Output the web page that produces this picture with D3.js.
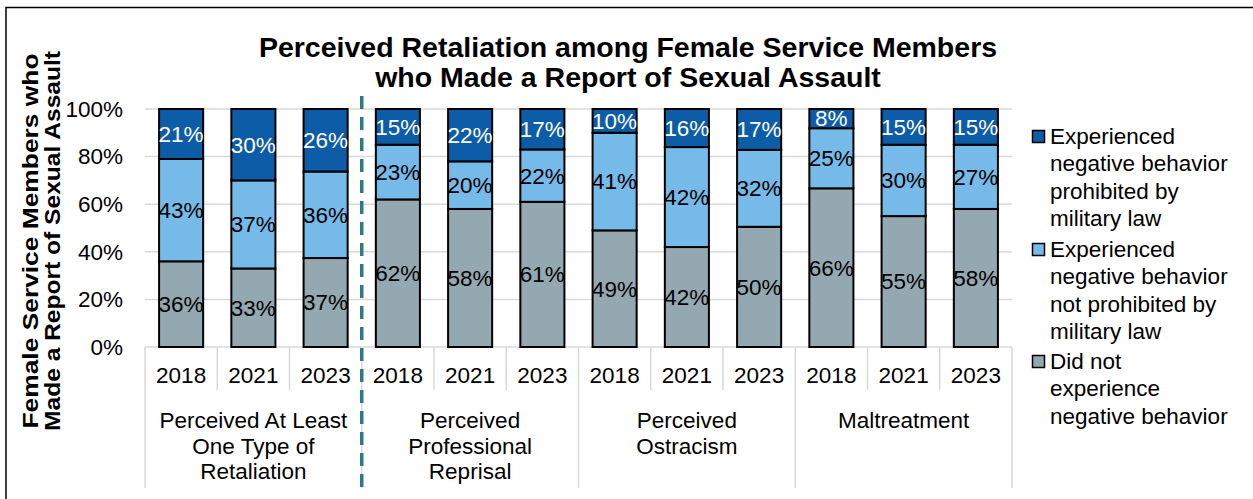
<!DOCTYPE html>
<html>
<head>
<meta charset="utf-8">
<script src="https://cdn.jsdelivr.net/npm/d3@7"></script>
<style>
  html, body { margin: 0; padding: 0; background: #fff; }
  svg { display: block; font-family: "Liberation Sans", Arial, sans-serif; }
</style>
</head>
<body>
<svg id="chart" width="1253" height="499"></svg>
<script>
// ---- Data ----
const titleLines = ["Perceived Retaliation among Female Service Members", "who Made a Report of Sexual Assault"];
const yTitleLines = ["Female Service Members who", "Made a Report of Sexual Assault"];
const groupLabels = [
  ["Perceived At Least", "One Type of", "Retaliation"],
  ["Perceived", "Professional", "Reprisal"],
  ["Perceived", "Ostracism"],
  ["Maltreatment"]
];
const years = ["2018", "2021", "2023"];
const seriesNames = [
  "Experienced negative behavior prohibited by military law",
  "Experienced negative behavior not prohibited by military law",
  "Did not experience negative behavior"
];
const legendLines = [
  ["Experienced", "negative behavior", "prohibited by", "military law"],
  ["Experienced", "negative behavior", "not prohibited by", "military law"],
  ["Did not", "experience", "negative behavior"]
];
const prohibited    = [21, 30, 26, 15, 22, 17, 10, 16, 17, 8, 15, 15];
const notProhibited = [43, 37, 36, 23, 20, 22, 41, 42, 32, 25, 30, 27];
const didNot        = [36, 33, 37, 62, 58, 61, 49, 42, 50, 66, 55, 58];
const yTicks = [0, 0.2, 0.4, 0.6, 0.8, 1.0];

// ---- Build table ----
const rows = [];
groupLabels.forEach((g, gi) => {
  years.forEach((y, yi) => {
    const i = gi * years.length + yi;
    rows.push({ id: i, group: gi, year: y, prohibited: prohibited[i], notProhibited: notProhibited[i], didNot: didNot[i] });
  });
});
const keys = ["didNot", "notProhibited", "prohibited"];
const colors = { prohibited: "#0d5ca7", notProhibited: "#75bae8", didNot: "#93a8b0" };
const labelColors = { prohibited: "#ffffff", notProhibited: "#000000", didNot: "#000000" };

const svg = d3.select("#chart");
const FONT = 22.5;

// outer border
svg.append("rect").attr("x", 6).attr("y", 7.5).attr("width", 1300).attr("height", 600)
  .attr("fill", "none").attr("stroke", "#000").attr("stroke-width", 1.5);

const plotLeft = 145, plotRight = 1012, plotTop = 109, plotBottom = 347;

const x = d3.scaleBand().domain(rows.map(d => d.id)).range([plotLeft, plotRight])
  .paddingInner(0.39).paddingOuter(0.195);
const y = d3.scaleLinear().domain([0, 1]).range([plotBottom, plotTop]);

// gridlines
svg.append("g").selectAll("line").data(yTicks.slice(1)).join("line")
  .attr("x1", plotLeft).attr("x2", plotRight)
  .attr("y1", d => y(d)).attr("y2", d => y(d))
  .attr("stroke", "#d9d9d9").attr("stroke-width", 1.5);

// y axis
const yAxis = d3.axisLeft(y).tickValues(yTicks).tickFormat(d3.format(".0%")).tickSize(0).tickPadding(22);
const yg = svg.append("g").attr("transform", `translate(${plotLeft},0)`).call(yAxis);
yg.select(".domain").remove();
yg.selectAll("text").attr("font-size", FONT).attr("fill", "#000")
  .attr("font-family", "Liberation Sans, Arial, sans-serif");

// category axis lines
const step = x.step();
const boundaries = d3.range(rows.length + 1).map(i => plotLeft + i * step);
svg.append("line").attr("x1", plotLeft).attr("x2", plotRight).attr("y1", plotBottom).attr("y2", plotBottom)
  .attr("stroke", "#d9d9d9").attr("stroke-width", 1.5);
svg.append("g").selectAll("line").data(boundaries).join("line")
  .attr("x1", d => d).attr("x2", d => d)
  .attr("y1", plotBottom)
  .attr("y2", (d, i) => (i % years.length === 0) ? 488 : 390)
  .attr("stroke", "#d9d9d9").attr("stroke-width", 1.5);

// stacked bars
const stack = d3.stack().keys(keys).offset(d3.stackOffsetExpand);
const series = stack(rows);
const layers = svg.append("g").selectAll("g").data(series).join("g")
  .attr("fill", d => colors[d.key]);
layers.selectAll("rect").data(d => d).join("rect")
  .attr("x", d => x(d.data.id))
  .attr("width", x.bandwidth())
  .attr("y", d => y(d[1]))
  .attr("height", d => y(d[0]) - y(d[1]))
  .attr("stroke", "#000").attr("stroke-width", 2);

// data labels
const labelG = svg.append("g");
series.forEach(s => {
  labelG.selectAll(null).data(s).join("text")
    .attr("x", d => x(d.data.id) + x.bandwidth() / 2)
    .attr("y", d => y((d[0] + d[1]) / 2))
    .attr("dy", "0.35em")
    .attr("text-anchor", "middle")
    .attr("font-size", FONT)
    .attr("fill", labelColors[s.key])
    .text(d => d.data[s.key] + "%");
});

// year labels
svg.append("g").selectAll("text").data(rows).join("text")
  .attr("x", d => x(d.id) + x.bandwidth() / 2)
  .attr("y", 383)
  .attr("text-anchor", "middle").attr("font-size", FONT).attr("fill", "#000")
  .text(d => d.year);

// group labels
groupLabels.forEach((lines, gi) => {
  const cx = plotLeft + (gi * years.length + years.length / 2) * step;
  svg.append("text").attr("text-anchor", "middle").attr("font-size", FONT).attr("fill", "#000")
    .selectAll("tspan").data(lines).join("tspan")
    .attr("x", cx).attr("y", (d, i) => 428 + i * 25.5)
    .text(d => d);
});

// dashed separator
svg.append("line")
  .attr("x1", plotLeft + 3 * step).attr("x2", plotLeft + 3 * step)
  .attr("y1", 96).attr("y2", 490)
  .attr("stroke", "#2e7a82").attr("stroke-width", 3.5)
  .attr("stroke-dasharray", "13,8");

// title
svg.append("text").attr("text-anchor", "middle").attr("font-size", 28.5).attr("font-weight", "bold").attr("fill", "#000")
  .selectAll("tspan").data(titleLines).join("tspan")
  .attr("x", 628).attr("y", (d, i) => 57 + i * 30)
  .text(d => d);

// y title
const yTitleLen = [375, 380];
svg.append("text").attr("transform", "translate(0,241) rotate(-90)")
  .attr("text-anchor", "middle").attr("font-size", 22).attr("font-weight", "bold").attr("fill", "#000")
  .selectAll("tspan").data(yTitleLines).join("tspan")
  .attr("x", 0).attr("y", (d, i) => 38 + i * 21.5)
  .attr("textLength", (d, i) => yTitleLen[i]).attr("lengthAdjust", "spacingAndGlyphs")
  .text(d => d);

// legend
const legendTop = [144, 257, 369];
const lg = svg.append("g");
["prohibited", "notProhibited", "didNot"].forEach((k, i) => {
  lg.append("rect").attr("x", 1032.5).attr("y", legendTop[i] - 13.5).attr("width", 12).attr("height", 12)
    .attr("fill", colors[k]).attr("stroke", "#000").attr("stroke-width", 1.5);
  lg.append("text").attr("font-size", FONT).attr("fill", "#000")
    .selectAll("tspan").data(legendLines[i]).join("tspan")
    .attr("x", 1050).attr("y", (d, j) => legendTop[i] + j * 27.4)
    .text(d => d);
});
</script>
</body>
</html>
